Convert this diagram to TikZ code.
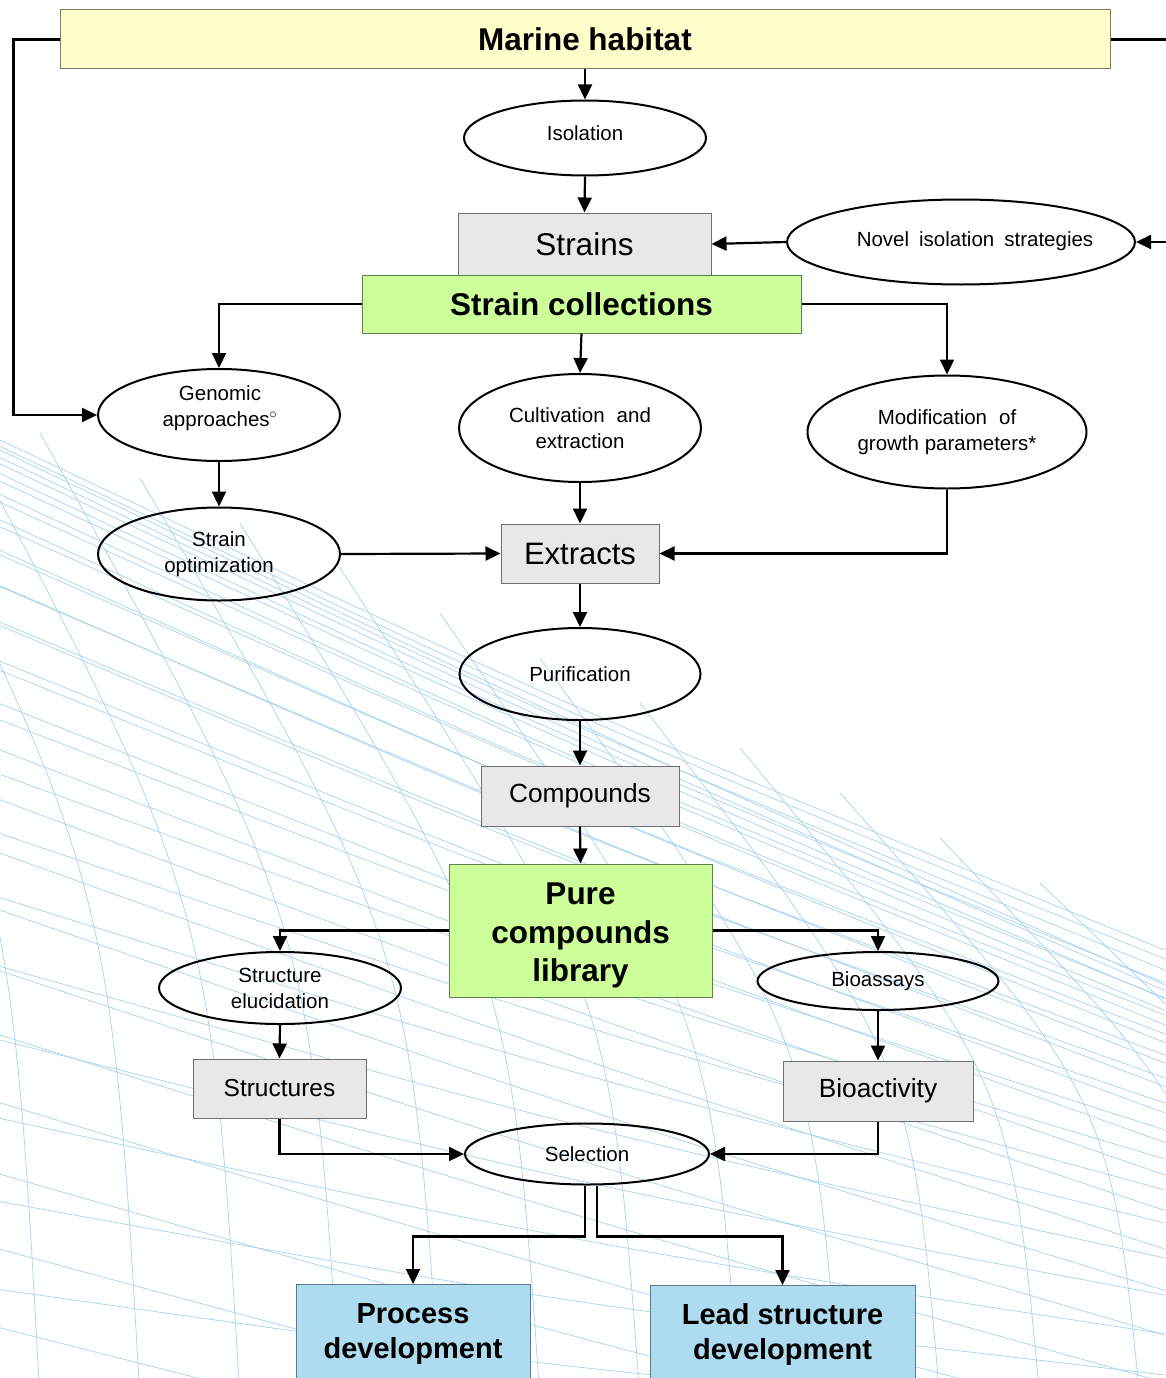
\documentclass[tikz,border=0pt]{standalone}
\usepackage{fontspec}
\setmainfont{Liberation Sans}
\usetikzlibrary{shapes.geometric,arrows.meta}
\definecolor{yelfill}{HTML}{FFFFCC}
\definecolor{yelline}{HTML}{7F7F5F}
\definecolor{grayfill}{HTML}{E8E8E8}
\definecolor{grayline}{HTML}{707070}
\definecolor{grnfill}{HTML}{CCFF99}
\definecolor{grnline}{HTML}{5F7F4F}
\definecolor{blufill}{HTML}{ADDCF0}
\definecolor{bluline}{HTML}{5A7A8A}
\definecolor{meshcol}{HTML}{A6D2F2}
\tikzset{
  ell/.style={ellipse, draw=black, line width=2pt, inner sep=0pt, align=center,
    font=\fontsize{20.5}{26}\selectfont},
  graybox/.style={rectangle, draw=grayline, fill=grayfill, line width=1pt, inner sep=0pt, align=center},
  grnbox/.style={rectangle, draw=grnline, fill=grnfill, line width=1pt, inner sep=0pt, align=center},
  yelbox/.style={rectangle, draw=yelline, fill=yelfill, line width=1pt, inner sep=0pt, align=center},
  blubox/.style={rectangle, draw=bluline, fill=blufill, line width=1pt, inner sep=0pt, align=center},
  txt/.style={align=center, inner sep=0pt},
  arr/.style={draw=black, line width=2.2pt, -{Triangle[length=15pt,width=14pt]}},
  mesh/.style={draw=meshcol, line width=0.7pt}
}
\begin{document}
\begin{tikzpicture}[x=1pt,y=-1pt]
\useasboundingbox (0,0) rectangle (1165,1378);
\fill[white] (0,0) rectangle (1165,1378);
% background mesh
\begin{scope}
\clip (0,0) rectangle (1165,1378);
\foreach \k in {0,...,22} {
  \pgfmathsetmacro{\ya}{440+4*\k+2.4*\k*\k}
  \pgfmathsetmacro{\yb}{950+8*\k+1.0*\k*\k}
  \pgfmathsetmacro{\yc}{(\ya+\yb)/2+18}
  \draw[mesh] (0,\ya) .. controls (580,\yc) .. (1165,\yb);
}
\foreach \k in {0,...,20} {
  \pgfmathsetmacro{\ya}{450+12*\k+1.8*\k*\k}
  \pgfmathsetmacro{\yb}{985+4*\k+1.5*\k*\k}
  \pgfmathsetmacro{\yc}{(\ya+\yb)/2+10}
  \draw[mesh] (0,\ya) .. controls (580,\yc) .. (1165,\yb);
}
\foreach \b in {-60,40,...,1360} {
  \pgfmathsetmacro{\xt}{\b-300}
  \pgfmathsetmacro{\yt}{440+0.45*\xt-25}
  \pgfmathsetmacro{\yc}{\yt+0.5*(1400-\yt)}
  \pgfmathsetmacro{\xc}{\b-30}
  \draw[mesh] (\xt,\yt) .. controls (\xc,\yc) .. (\b,1400);
}
\end{scope}

% boxes
\node[yelbox, minimum width=1050, minimum height=59, font=\bfseries\fontsize{31.5}{38}\selectfont] (mar) at (585,39.5) {Marine habitat};
\node[ell, minimum width=242, minimum height=75, text depth=10pt] (iso) at (585,138) {Isolation};
\node[graybox, minimum width=253, minimum height=62, font=\fontsize{31.5}{38}\selectfont] (strains) at (584.5,244) {Strains};
\node[grnbox, minimum width=439, minimum height=58, font=\bfseries\fontsize{31.5}{38}\selectfont] (coll) at (581.5,304) {Strain collections};
\node[ell, minimum width=348, minimum height=85] (nov) at (961,242) {};
\node[txt, font=\fontsize{20.5}{26}\selectfont] (novt) at (975,241) {Novel\hspace{10pt}isolation\hspace{10pt}strategies};
\node[ell, minimum width=242, minimum height=92] (gen) at (219,415) {};
\node[txt, font=\fontsize{20.5}{26}\selectfont] (gent) at (220,408) {Genomic\\approaches$^{\circ}$};
\node[ell, minimum width=242, minimum height=108] (cult) at (580,428) {Cultivation\hspace{12pt}and\\extraction};
\node[ell, minimum width=279, minimum height=113] (mod) at (947,432) {Modification\hspace{12pt}of\\growth parameters*};
\node[ell, minimum width=242, minimum height=93] (sopt) at (219,554) {Strain\\optimization};
\node[graybox, minimum width=158, minimum height=59, font=\fontsize{31}{38}\selectfont] (extr) at (580,553.5) {Extracts};
\node[ell, minimum width=241, minimum height=92] (pur) at (580,674) {Purification};
\node[graybox, minimum width=198, minimum height=60, font=\fontsize{26.3}{32}\selectfont] (comp) at (580,796) {Compounds};
\node[grnbox, minimum width=263, minimum height=133] (pcl) at (580.5,930.5) {};
\node[txt, font=\bfseries\fontsize{31.5}{38.5}\selectfont] (pclt) at (580.5,935.5) {Pure\\compounds\\library};
\node[ell, minimum width=242, minimum height=72] (se) at (280,988) {Structure\\elucidation};
\node[ell, minimum width=241, minimum height=58] (bioa) at (878,981) {Bioassays};
\node[graybox, minimum width=173, minimum height=59, font=\fontsize{24.5}{30}\selectfont] (struct) at (279.5,1088.5) {Structures};
\node[graybox, minimum width=190, minimum height=60, font=\fontsize{26.3}{32}\selectfont] (bact) at (878,1091) {Bioactivity};
\node[ell, minimum width=244, minimum height=61] (sel) at (587,1154) {Selection};
\node[blubox, anchor=north, minimum width=234, minimum height=110] (proc) at (413,1284) {};
\node[blubox, anchor=north, minimum width=265, minimum height=110] (lead) at (782.5,1285) {};
\node[txt, font=\bfseries\fontsize{29}{35}\selectfont] (proct) at (413,1334) {Process\\development};
\node[txt, font=\bfseries\fontsize{29}{35}\selectfont] (leadt) at (782.5,1334) {Lead structure\\development};

% connectors
\coordinate (offr) at (1200,242);
\draw[arr] (mar.south) -- (iso.north);
\draw[arr] (iso.south) -- (strains.north);
\draw[arr] (mar.west) -- ++(-46,0) |- (gen.west);
\draw[arr] (mar.east) -| (offr) -- (nov.east);
\draw[arr] (nov.west) -- (strains.east);
\draw[arr] (coll.west) -| (gen.north);
\draw[arr] (coll.south) -- (cult.north);
\draw[arr] (coll.east) -| (mod.north);
\draw[arr] (gen.south) -- (sopt.north);
\draw[arr] (sopt.east) -- (extr.west);
\draw[arr] (cult.south) -- (extr.north);
\draw[arr] (mod.south) |- (extr.east);
\draw[arr] (extr.south) -- (pur.north);
\draw[arr] (pur.south) -- (comp.north);
\draw[arr] (comp.south) -- (pcl.north);
\draw[arr] (pcl.west) -| (se.north);
\draw[arr] (pcl.east) -| (bioa.north);
\draw[arr] (se.south) -- (struct.north);
\draw[arr] (bioa.south) -- (bact.north);
\draw[arr] (struct.south) |- (sel.west);
\draw[arr] (bact.south) |- (sel.east);
\draw[arr] ([xshift=-2pt]sel.south) -- ++(0,51) -| (proc.north);
\draw[arr] ([xshift=10pt]sel.south) -- ++(0,51) -| (lead.north);
\end{tikzpicture}
\end{document}
